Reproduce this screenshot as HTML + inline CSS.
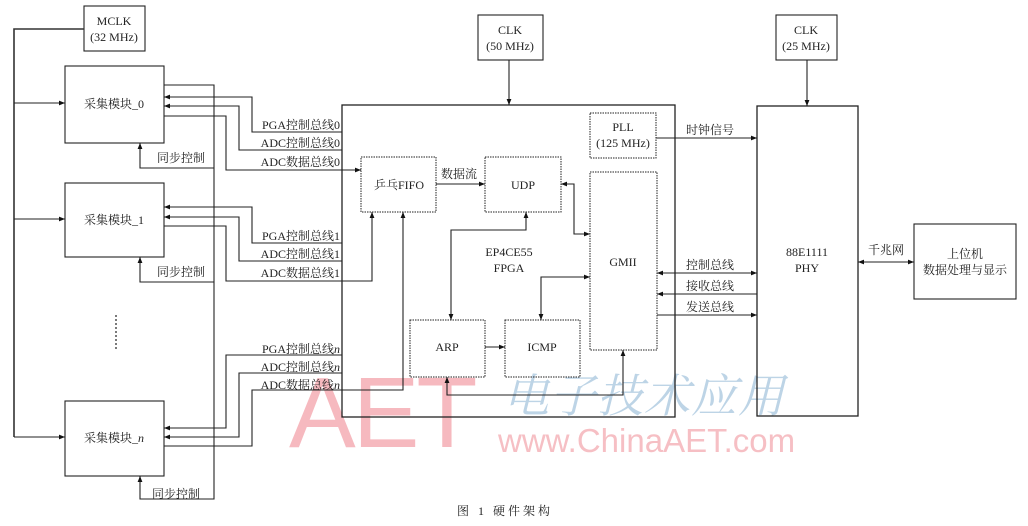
<!DOCTYPE html>
<html><head><meta charset="utf-8"><style>
html,body{margin:0;padding:0;background:#fff;}
svg{display:block;}
text{font-family:"Liberation Serif","Noto Serif CJK SC",serif;font-size:12px;fill:#222;}
.c{text-anchor:middle;}
.r{text-anchor:end;}
</style></head><body>
<svg width="1028" height="526" viewBox="0 0 1028 526" xmlns="http://www.w3.org/2000/svg">
<defs>
<marker id="a" viewBox="0 0 10 10" refX="10" refY="5" markerWidth="7" markerHeight="6" orient="auto-start-reverse" markerUnits="userSpaceOnUse"><path d="M0,1 L10,5 L0,9 z" fill="#111"/></marker>
</defs>
<!-- watermark -->
<text x="289" y="447" style="font-family:'Liberation Sans',sans-serif;font-size:100px;fill:#f6b9bf;letter-spacing:-3px">AET</text>
<text x="503" y="412" style="font-family:'Noto Serif CJK SC',serif;font-size:46px;fill:#bdd4e6;font-style:italic;letter-spacing:1px">电子技术应用</text>
<text x="498" y="452" style="font-family:'Liberation Sans',sans-serif;font-size:33px;fill:#f6bfc4">www.ChinaAET.com</text>

<g fill="none" stroke="#222" stroke-width="1.1">
<rect x="84" y="6" width="61" height="45"/>
<path d="M84,29 H14 V437" stroke="#333" stroke-width="1.6"/>
<path d="M14,103 H65" marker-end="url(#a)"/>
<path d="M14,219 H65" marker-end="url(#a)"/>
<path d="M14,437 H65" marker-end="url(#a)"/>
<rect x="65" y="66" width="99" height="77"/>
<rect x="65" y="183" width="99" height="74"/>
<rect x="65" y="401" width="99" height="75"/>
<path d="M164,85 H214 V499 H140 V476" marker-end="url(#a)"/>
<path d="M214,168 H140 V143" marker-end="url(#a)"/>
<path d="M214,282 H140 V257" marker-end="url(#a)"/>
<path d="M342,132 H252 V97 H164" marker-end="url(#a)"/>
<path d="M342,150 H239 V106 H164" marker-end="url(#a)"/>
<path d="M164,116 H226 V170 H361" marker-end="url(#a)"/>
<path d="M342,243 H252 V207 H164" marker-end="url(#a)"/>
<path d="M342,261 H239 V217 H164" marker-end="url(#a)"/>
<path d="M164,226 H226 V281 H372 V212" marker-end="url(#a)"/>
<path d="M342,355 H226 V428 H164" marker-end="url(#a)"/>
<path d="M342,373 H239 V437 H164" marker-end="url(#a)"/>
<path d="M164,446 H252 V390 H403 V212" marker-end="url(#a)"/>
<rect x="342" y="105" width="333" height="312" stroke-width="1.3"/>
<rect x="478" y="15" width="65" height="45"/>
<path d="M509,60 V105" marker-end="url(#a)"/>
<rect x="776" y="15" width="61" height="45"/>
<path d="M807,60 V106" marker-end="url(#a)"/>
<rect x="757" y="106" width="101" height="310" stroke-width="1.3"/>
<rect x="914" y="224" width="102" height="75"/>
<path d="M858,262 H914" marker-start="url(#a)" marker-end="url(#a)"/>
<g stroke-dasharray="1.5,1" stroke-width="1">
<rect x="361" y="157" width="75" height="55"/>
<rect x="485" y="157" width="76" height="55"/>
<rect x="590" y="113" width="66" height="45"/>
<rect x="590" y="172" width="67" height="178"/>
<rect x="410" y="320" width="75" height="57"/>
<rect x="505" y="320" width="75" height="57"/>
</g>
<path d="M436,184 H485" marker-end="url(#a)"/>
<path d="M561,184 H574 V234 H590" marker-start="url(#a)" marker-end="url(#a)"/>
<path d="M526,212 V230 H451 V320" marker-start="url(#a)" marker-end="url(#a)"/>
<path d="M485,347 H505" marker-end="url(#a)"/>
<path d="M541,320 V277 H590" marker-start="url(#a)" marker-end="url(#a)"/>
<path d="M447,377 V395 H623 V350" marker-start="url(#a)" marker-end="url(#a)"/>
<path d="M656,138 H757" marker-end="url(#a)"/>
<path d="M657,273 H757" marker-start="url(#a)" marker-end="url(#a)"/>
<path d="M757,294 H657" marker-end="url(#a)"/>
<path d="M657,315 H757" marker-end="url(#a)"/>
<path d="M116,315 V350" stroke-dasharray="2,2" stroke-width="1.2"/>
</g>

<text class="c" x="114" y="25">MCLK</text>
<text class="c" x="114" y="41">(32 MHz)</text>
<text class="c" x="510" y="34">CLK</text>
<text class="c" x="510" y="50">(50 MHz)</text>
<text class="c" x="806" y="34">CLK</text>
<text class="c" x="806" y="50">(25 MHz)</text>
<text class="c" x="114" y="108">采集模块_0</text>
<text class="c" x="114" y="224">采集模块_1</text>
<text class="c" x="114" y="442">采集模块_<tspan font-style="italic">n</tspan></text>
<text x="157" y="162">同步控制</text>
<text x="157" y="276">同步控制</text>
<text x="152" y="498">同步控制</text>
<text class="r" x="340" y="129">PGA控制总线0</text>
<text class="r" x="340" y="147">ADC控制总线0</text>
<text class="r" x="340" y="166">ADC数据总线0</text>
<text class="r" x="340" y="240">PGA控制总线1</text>
<text class="r" x="340" y="258">ADC控制总线1</text>
<text class="r" x="340" y="277">ADC数据总线1</text>
<text class="r" x="340" y="353">PGA控制总线<tspan font-style="italic">n</tspan></text>
<text class="r" x="340" y="371">ADC控制总线<tspan font-style="italic">n</tspan></text>
<text class="r" x="340" y="389">ADC数据总线<tspan font-style="italic">n</tspan></text>
<text class="c" x="399" y="189">乒乓FIFO</text>
<text class="c" x="459" y="178">数据流</text>
<text class="c" x="523" y="189">UDP</text>
<text class="c" x="623" y="131">PLL</text>
<text class="c" x="623" y="147">(125 MHz)</text>
<text class="c" x="623" y="266">GMII</text>
<text class="c" x="509" y="256">EP4CE55</text>
<text class="c" x="509" y="272">FPGA</text>
<text class="c" x="447" y="351">ARP</text>
<text class="c" x="542" y="351">ICMP</text>
<text x="686" y="134">时钟信号</text>
<text x="686" y="269">控制总线</text>
<text x="686" y="290">接收总线</text>
<text x="686" y="311">发送总线</text>
<text class="c" x="807" y="256">88E1111</text>
<text class="c" x="807" y="272">PHY</text>
<text class="c" x="886" y="254">千兆网</text>
<text class="c" x="965" y="258">上位机</text>
<text class="c" x="965" y="274">数据处理与显示</text>
<text x="457" y="515" style="font-size:12px;letter-spacing:3px">图 1  硬件架构</text>
</svg>
</body></html>
